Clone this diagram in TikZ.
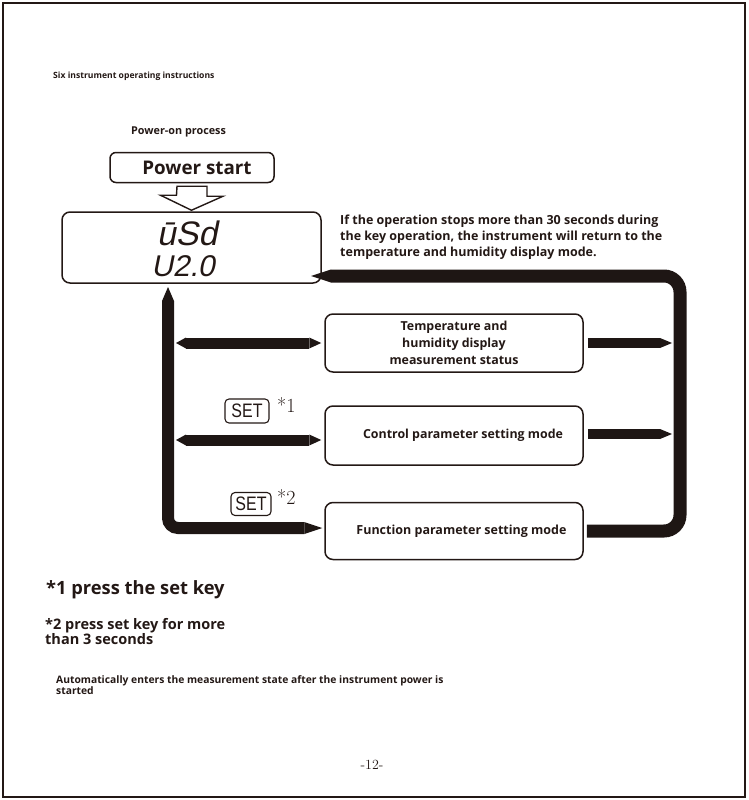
\documentclass[tikz,border=0pt]{standalone}
\usepackage{fontspec}
\newfontfamily\sans{Open Sans}
\newfontfamily\segfont[FakeSlant=0.2]{Liberation Sans}
\newfontfamily\keyfont[FakeStretch=0.82]{Liberation Sans}
\usetikzlibrary{arrows.meta}
\definecolor{ink}{RGB}{35,24,21}
\definecolor{barc}{RGB}{30,22,20}
\begin{document}
\begin{tikzpicture}[x=1pt,y=-1pt,
  box/.style={draw=ink, line width=1.5pt, rounded corners=8pt, inner sep=0pt, text=ink},
  keybox/.style={draw=ink, line width=1.1pt, rounded corners=4pt, inner sep=0pt, text=ink,
     font=\keyfont\fontsize{19.5}{19.5}\selectfont},
  txt/.style={inner sep=0pt, text=ink},
  bar/.style={line width=#1, draw=barc, line cap=butt},
  hollow/.style={draw=ink, line width=1.4pt, line join=miter, fill=white}]
\useasboundingbox (0,0) rectangle (748,800);
% page frame
\draw[line width=1.2pt, ink] (3,3) rectangle (745,797);

% headings
\node[txt, anchor=west, font=\sans\bfseries\fontsize{8.6}{10}\selectfont] (title) at (53,76.5) {Six instrument operating instructions};
\node[txt, anchor=west, font=\sans\bfseries\fontsize{10.8}{12}\selectfont] (proc) at (131,132) {Power-on process};

% power start
\node[box, rounded corners=6pt, minimum width=164pt, minimum height=30pt,
      font=\sans\bfseries\fontsize{18.8}{18.8}\selectfont] (pstart) at (192,167.5) {\hspace*{10pt}Power start};

% display
\node[box, minimum width=259pt, minimum height=71pt] (disp) at (191.5,247.5) {};
\node[txt, font=\segfont\fontsize{34}{34}\selectfont] (d1) at (187,233) {ūSd};
\node[txt, font=\segfont\fontsize{30}{30}\selectfont] (d2) at (183,266) {U2.0};

% hollow arrow
\draw[hollow] ([xshift=-15pt,yshift=-3pt]pstart.south) -- ++(30,0) -- ++(0,10) -- ++(16,0)
   -- ([yshift=1pt]disp.north) -- ++(-31,-15) -- ++(16,0) -- cycle;

% note
\node[txt, anchor=north west, align=left, font=\sans\bfseries\fontsize{12.5}{16}\selectfont] (note) at (340,215)
  {If the operation stops more than 30 seconds during\\the key operation, the instrument will return to the\\temperature and humidity display mode.};

% mode boxes
\node[box, minimum width=258pt, minimum height=58pt, align=center,
      font=\sans\bfseries\fontsize{12.4}{17}\selectfont] (temp) at (454,343)
      {Temperature and\\humidity display\\measurement status};
\node[box, minimum width=258pt, minimum height=59pt,
      font=\sans\bfseries\fontsize{12.4}{14}\selectfont] (ctrl) at (454,435.5)
      {\hspace*{18pt}Control parameter setting mode};
\node[box, minimum width=258pt, minimum height=57pt,
      font=\sans\bfseries\fontsize{12.5}{14}\selectfont] (func) at (454,531)
      {\hspace*{15pt}Function parameter setting mode};

% SET keys
\node[keybox, minimum width=44pt, minimum height=24pt] (set1) at (247,411) {SET};
\node[txt, anchor=west, font=\rmfamily\fontsize{20}{20}\selectfont] (st1) at (277,405) {*1};
\node[keybox, minimum width=40pt, minimum height=23pt] (set2) at (251,504) {SET};
\node[txt, anchor=west, font=\rmfamily\fontsize{20}{20}\selectfont] (st2) at (277,497) {*2};

% connector end points
\coordinate (rtip) at (311,276);
\coordinate (ltop) at (168,287);
\coordinate (l1) at (176,343);
\coordinate (l2) at (176,440);
\coordinate (r1) at (672,343);
\coordinate (r2) at (672,434);

% right return loop
\draw[bar=13pt, rounded corners=16pt, -{Triangle[length=20pt,width=13pt,line width=0pt]}]
   ([xshift=3pt]func.east) -| (680,276) -- (rtip);
% left loop
\draw[bar=12pt, rounded corners=10pt, {Triangle[length=14pt,width=12pt,line width=0pt]}-{Triangle[length=18pt,width=12pt,line width=0pt]}]
   (ltop) |- ([xshift=-2pt,yshift=3pt]func.west);
% left bars
\draw[bar=11pt, {Triangle[length=10pt,width=11pt,line width=0pt]}-{Triangle[length=12pt,width=11pt,line width=0pt]}]
   (l1) -- ([xshift=-3pt]temp.west);
\draw[bar=11pt, {Triangle[length=10pt,width=11pt,line width=0pt]}-{Triangle[length=12pt,width=11pt,line width=0pt]}]
   (l2) -- ([xshift=-3pt]ctrl.west |- l2);
% right bars
\draw[bar=10pt, -{Triangle[length=12pt,width=10pt,line width=0pt]}] ([xshift=4pt]temp.east) -- (r1);
\draw[bar=10pt, -{Triangle[length=12pt,width=10pt,line width=0pt]}] ([xshift=4pt]ctrl.east |- r2) -- (r2);

% footnotes
\node[txt, anchor=west, font=\sans\bfseries\fontsize{18.3}{18.3}\selectfont] (fn1) at (46,590) {*1 press the set key};
\node[txt, anchor=north west, align=left, font=\sans\bfseries\fontsize{14.5}{15.5}\selectfont] (fn2) at (45,618)
  {*2 press set key for more\\than 3 seconds};
\node[txt, anchor=north west, align=left, font=\sans\bfseries\fontsize{10.3}{11}\selectfont] (fn3) at (56,675)
  {Automatically enters the measurement state after the instrument power is\\started};

% page number
\node[txt, font=\rmfamily\fontsize{14}{14}\selectfont] (page) at (372,765) {-12-};
\end{tikzpicture}
\end{document}
